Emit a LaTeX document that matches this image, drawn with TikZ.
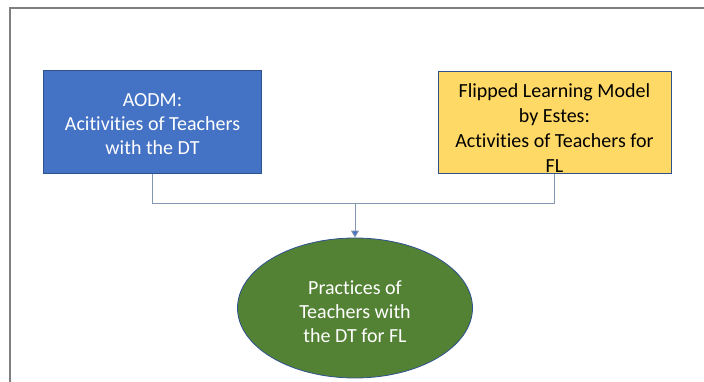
\documentclass[tikz,border=0pt]{standalone}
\usepackage{fontspec}
\setmainfont{Carlito}[Ligatures=NoCommon]
\usetikzlibrary{shapes.geometric, arrows.meta, positioning}

\definecolor{aodmblue}{HTML}{4472C4}
\definecolor{estesyellow}{HTML}{FFD966}
\definecolor{pracgreen}{HTML}{548235}
\definecolor{edgeblue}{HTML}{2F528F}
\definecolor{linkgray}{HTML}{8497B0}
\definecolor{framegray}{HTML}{7F7F7F}

\newcommand{\lowered}[3]{\raisebox{-#1}[\height][\depth]{\parbox{#2}{\centering #3}}}

\begin{document}
\begin{tikzpicture}[
    x=1pt, y=-1pt,
    font=\fontsize{20}{24}\selectfont,
    block/.style={draw=edgeblue, line width=0.8pt, align=center, inner sep=0pt},
    link/.style={draw=linkgray, line width=0.9pt}
]

\useasboundingbox (0,0) rectangle (704,382);
\draw[framegray, line width=1.2pt] (704,8) -- (10,8) -- (10,382);

\node[block, fill=aodmblue, text=white, minimum width=218pt, minimum height=103pt] (aodm) at (152.5,122.4)
    {\lowered{2pt}{210pt}{AODM:\\Acitivities of Teachers\\with the DT}};
\node[block, fill=estesyellow, text=black, minimum width=233pt, minimum height=102pt] (estes) at (554.4,122.5)
    {\lowered{6pt}{230pt}{\baselineskip=25pt Flipped Learning Model\\by Estes:\\Activities of Teachers for\\FL}};
\node[block, ellipse, fill=pracgreen, text=white, minimum width=235pt, minimum height=140pt] (prac) at (355,308)
    {\lowered{4pt}{120pt}{Practices of\\Teachers with\\the DT for FL}};

\coordinate (join) at (355,203);

\path[link]
    (aodm.south) |- (join)
    (join) -| (estes.south)
    ;
\draw[link, -{Triangle[width=8pt, length=7pt, fill=aodmblue]}] (join) -- (prac.north);

\end{tikzpicture}
\end{document}
